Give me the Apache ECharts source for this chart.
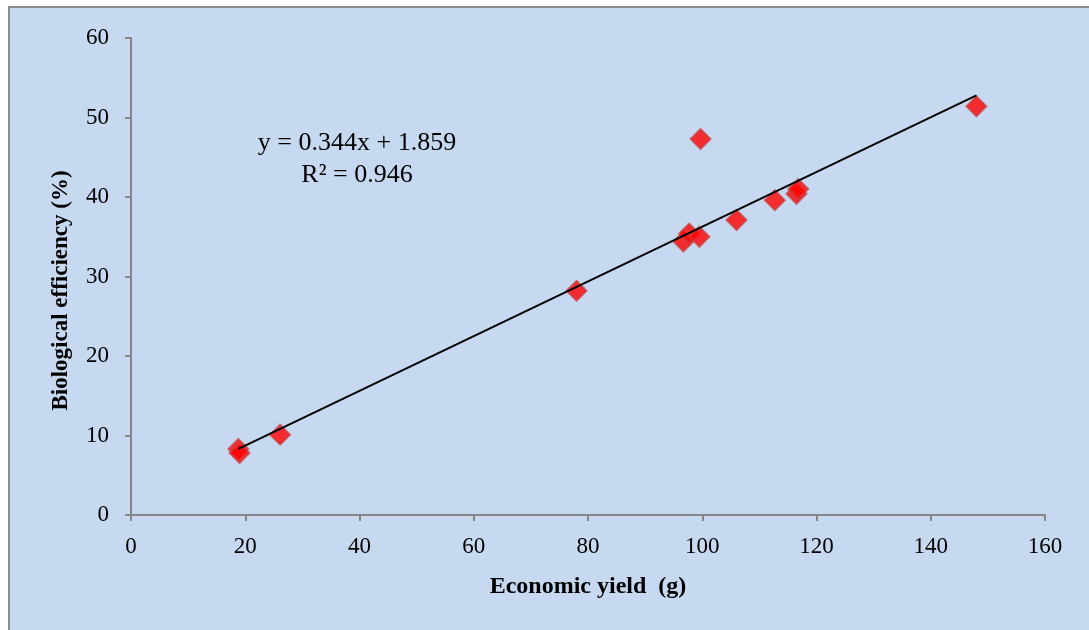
<!DOCTYPE html>
<html>
<head>
<meta charset="utf-8">
<script src="https://cdn.jsdelivr.net/npm/echarts@6/dist/echarts.min.js"></script>
<style>
  html, body { margin: 0; padding: 0; background: #fff; }
  #frame {
    position: absolute; left: 8px; top: 6px; width: 1081px; height: 624px;
    background: #c6d9f0; border-top: 2px solid #8c8c8c; border-left: 2px solid #8c8c8c;
  }
  #main { position: absolute; left: 0; top: 0; width: 1089px; height: 630px; }
</style>
</head>
<body>
<div id="frame"></div>
<div id="main"></div>
<script>
// economic yield (g) vs biological efficiency (%)
const yieldG = [18.8, 19.0, 26.1, 78.0, 96.7, 97.7, 99.5, 99.7, 106.0, 112.7, 116.5, 116.8, 148.0]
const efficiency = [8.3, 7.8, 10.1, 28.2, 34.4, 35.4, 35.0, 47.3, 37.1, 39.6, 40.4, 41.0, 51.4]
const slope = 0.344
const intercept = 1.859
const r2 = 0.946
const xTicks = [0, 20, 40, 60, 80, 100, 120, 140, 160]
const yTicks = [0, 10, 20, 30, 40, 50, 60]

const points = yieldG.map((x, i) => [x, efficiency[i]])
const xMin = Math.min(...yieldG)
const xMax = Math.max(...yieldG)
const trend = [[xMin, slope * xMin + intercept], [xMax, slope * xMax + intercept]]

const chart = echarts.init(document.getElementById('main'))
const axisCol = '#868686'
const serif = '"Liberation Serif", "Times New Roman", serif'

chart.setOption({
  animation: false,
  backgroundColor: 'transparent',
  textStyle: { fontFamily: serif },
  grid: { left: 131, right: 44, top: 38, bottom: 115 },
  xAxis: {
    type: 'value',
    min: xTicks[0], max: xTicks[xTicks.length - 1], interval: 20,
    name: 'Economic yield  (g)',
    nameLocation: 'middle', nameGap: 60,
    nameTextStyle: { fontFamily: serif, fontSize: 24, fontWeight: 'bold', color: '#000' },
    axisLine: { lineStyle: { color: axisCol, width: 2 } },
    axisTick: { length: 6, lineStyle: { color: axisCol, width: 2 } },
    axisLabel: { fontFamily: serif, fontSize: 23, color: '#000', margin: 20 },
    splitLine: { show: false }
  },
  yAxis: {
    type: 'value',
    min: yTicks[0], max: yTicks[yTicks.length - 1], interval: 10,
    name: 'Biological efficiency (%)',
    nameLocation: 'middle', nameGap: 58,
    nameTextStyle: { fontFamily: serif, fontSize: 23, fontWeight: 'bold', color: '#000', padding: [0, 28, 0, 0] },
    axisLine: { show: true, lineStyle: { color: axisCol, width: 2 } },
    axisTick: { show: true, length: 6, lineStyle: { color: axisCol, width: 2 } },
    axisLabel: { fontFamily: serif, fontSize: 23, color: '#000', margin: 22 },
    splitLine: { show: false }
  },
  series: [
    {
      type: 'line',
      data: trend,
      symbol: 'none',
      lineStyle: { color: '#000', width: 2 },
      z: 3
    },
    {
      type: 'scatter',
      data: points,
      symbol: 'diamond',
      symbolSize: 20,
      itemStyle: { color: '#ff0000', borderColor: 'rgba(200,60,60,0.85)', borderWidth: 2 },
      z: 2
    }
  ],
  graphic: [
    {
      type: 'text', x: 357, y: 143,
      style: { text: 'y = 0.344x + 1.859', font: '26px ' + serif, fill: '#000', align: 'center', verticalAlign: 'middle' }
    },
    {
      type: 'text', x: 357, y: 175,
      style: { text: 'R² = ' + r2.toFixed(3), font: '26px ' + serif, fill: '#000', align: 'center', verticalAlign: 'middle' }
    }
  ]
})
</script>
</body>
</html>
